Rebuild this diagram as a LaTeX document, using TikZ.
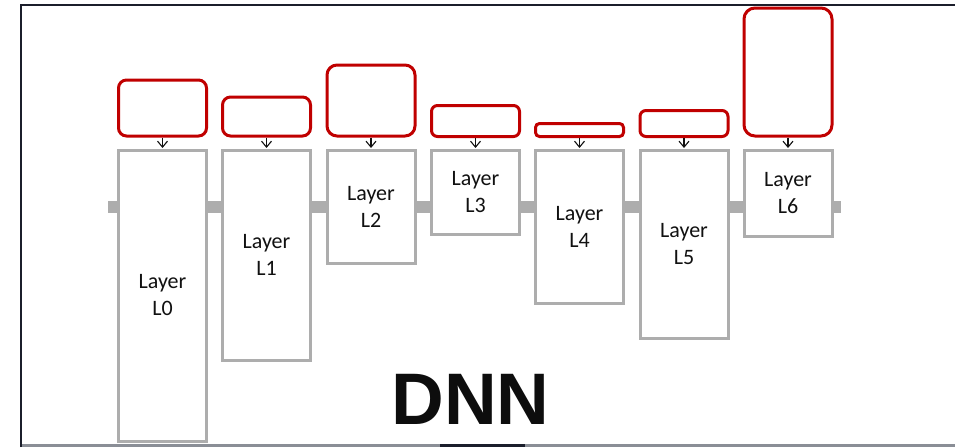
\documentclass[tikz,border=0pt]{standalone}
\usepackage{fontspec}
\setmainfont{Carlito}
\newfontfamily\dnnfont{Liberation Sans}
\usetikzlibrary{arrows.meta}
\definecolor{framec}{HTML}{1B1E2B}
\definecolor{bottomc}{HTML}{8A8E96}
\definecolor{grayc}{HTML}{ADADAD}
\definecolor{redc}{HTML}{C00000}
\definecolor{txtc}{HTML}{111111}
\tikzset{
  layerbox/.style={draw=grayc, line width=3pt, fill=white, minimum width=88pt, inner sep=0pt,
    align=center, text=txtc, font=\fontsize{22}{27}\selectfont},
  memobox/.style={draw=redc, line width=3pt, fill=white, minimum width=88pt, inner sep=0pt, rounded corners=8pt},
  busline/.style={draw=grayc, line width=12pt},
  arr/.style={draw=txtc, line width=1.1pt, -{Straight Barb[length=6pt,width=10pt]}, shorten >=0.5pt},
}
\begin{document}
\begin{tikzpicture}[x=1pt,y=-1pt]
\useasboundingbox (0,0) rectangle (955,447);
\fill[white] (0,0) rectangle (955,447);
% frame
\coordinate (fbl) at (21,447);
\coordinate (ftl) at (21,5);
\coordinate (ftr) at (955,5);
\coordinate (bl) at (21,445.5);
\coordinate (br) at (955,445.5);
\coordinate (sl) at (440,445.5);
\coordinate (sr) at (525,445.5);
\draw[bottomc, line width=2.5pt] (bl) -- (br);
\draw[framec, line width=3.5pt] (sl) -- (sr);
\draw[framec, line width=2.5pt] (fbl) -- (ftl) -- (ftr);
% bus
\coordinate (busL) at (108,207);
\coordinate (busR) at (841,207);
\draw[busline] (busL) -- (busR);
% layers
\node[layerbox, minimum height=291pt] (l0) at (162.5,295.5) {Layer\\L0};
\node[layerbox, minimum height=210pt] (l1) at (266.5,255) {Layer\\L1};
\node[layerbox, minimum height=113pt] (l2) at (371,206.5) {Layer\\L2};
\node[layerbox, minimum height=84pt] (l3) at (475.5,192) {Layer\\L3};
\node[layerbox, minimum height=153pt] (l4) at (579.5,226.5) {Layer\\L4};
\node[layerbox, minimum height=188pt] (l5) at (684,244) {Layer\\L5};
\node[layerbox, minimum height=86pt] (l6) at (788,193) {Layer\\L6};
% memory boxes
\node[memobox, minimum height=56pt] (r0) at (162.5,108) {};
\node[memobox, minimum height=39pt] (r1) at (266.5,116.5) {};
\node[memobox, minimum height=71pt, rounded corners=10pt] (r2) at (371,100.5) {};
\node[memobox, minimum height=31pt, rounded corners=6pt] (r3) at (475.5,121) {};
\node[memobox, minimum height=13pt, rounded corners=4pt] (r4) at (579.5,130) {};
\node[memobox, minimum height=26pt, rounded corners=6pt] (r5) at (684,123.5) {};
\node[memobox, minimum height=128pt, rounded corners=11pt] (r6) at (788,72) {};
% arrows
\foreach \i in {0,...,6} {
  \draw[arr] (r\i.south) -- (l\i.north);
}
% title
\node[font=\dnnfont\bfseries\fontsize{73}{80}\selectfont, text=black!95, inner sep=0pt] (title) at (470.5,399) {DNN};
\end{tikzpicture}
\end{document}
